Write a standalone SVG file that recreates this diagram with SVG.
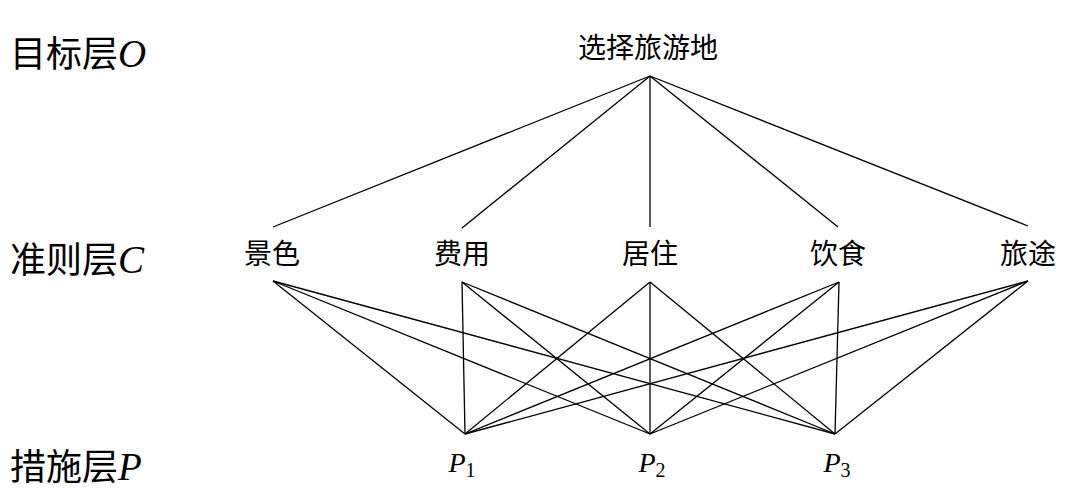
<svg xmlns="http://www.w3.org/2000/svg" width="1071" height="504" viewBox="0 0 1071 504">
<style>
.lbl{font-family:"Liberation Sans","Noto Sans CJK SC",sans-serif;font-size:36px;fill:#000}
.node{font-family:"Liberation Sans","Noto Sans CJK SC",sans-serif;font-size:28px;fill:#000;text-anchor:middle}
.it{font-family:"Liberation Serif",serif;font-style:italic}
.big{font-size:39px}
.sub{font-family:"Liberation Serif",serif;font-size:20px;font-style:normal}
.ln{stroke:#000;stroke-width:1.3;fill:none}
</style>
<rect width="1071" height="504" fill="#fff"/>
<g id="level-labels">
<text class="lbl" x="10" y="67">目标层<tspan class="it big">O</tspan></text>
<text class="lbl" x="10" y="273">准则层<tspan class="it big">C</tspan></text>
<text class="lbl" x="10" y="480">措施层<tspan class="it big">P</tspan></text>
</g>
<g id="node-O"><text class="node" x="648" y="58">选择旅游地</text></g>
<g id="node-C1"><text class="node" x="272" y="264">景色</text></g>
<g id="node-C2"><text class="node" x="462" y="264">费用</text></g>
<g id="node-C3"><text class="node" x="650" y="264">居住</text></g>
<g id="node-C4"><text class="node" x="838" y="264">饮食</text></g>
<g id="node-C5"><text class="node" x="1028" y="264">旅途</text></g>
<g id="node-P1"><text class="node it" x="462" y="472" font-size="30">P<tspan class="sub" dy="5">1</tspan></text></g>
<g id="node-P2"><text class="node it" x="652" y="472" font-size="30">P<tspan class="sub" dy="5">2</tspan></text></g>
<g id="node-P3"><text class="node it" x="837" y="472" font-size="30">P<tspan class="sub" dy="5">3</tspan></text></g>
<g id="connectors" class="ln">
<line x1="650" y1="76" x2="273" y2="227"/>
<line x1="650" y1="76" x2="462" y2="228"/>
<line x1="650" y1="76" x2="650" y2="227"/>
<line x1="650" y1="76" x2="838" y2="227"/>
<line x1="650" y1="76" x2="1028" y2="226"/>
<line x1="273" y1="281" x2="465" y2="434"/>
<line x1="273" y1="281" x2="650" y2="434"/>
<line x1="273" y1="281" x2="835" y2="434"/>
<line x1="462" y1="282" x2="465" y2="434"/>
<line x1="462" y1="282" x2="650" y2="434"/>
<line x1="462" y1="282" x2="835" y2="434"/>
<line x1="650" y1="282" x2="465" y2="434"/>
<line x1="650" y1="282" x2="650" y2="434"/>
<line x1="650" y1="282" x2="835" y2="434"/>
<line x1="839" y1="282" x2="465" y2="434"/>
<line x1="839" y1="282" x2="650" y2="434"/>
<line x1="839" y1="282" x2="835" y2="434"/>
<line x1="1028" y1="281" x2="465" y2="434"/>
<line x1="1028" y1="281" x2="650" y2="434"/>
<line x1="1028" y1="281" x2="835" y2="434"/>
</g>
</svg>
